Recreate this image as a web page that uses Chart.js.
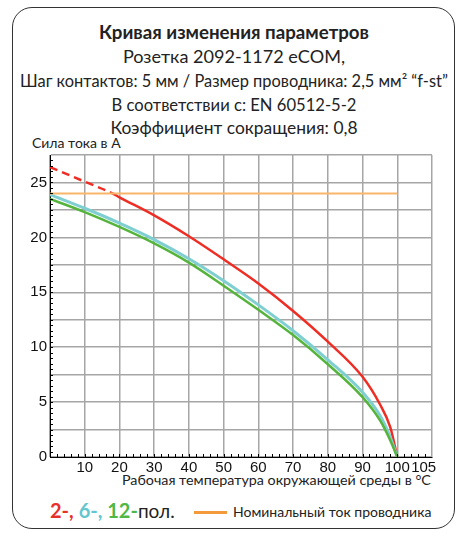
<!DOCTYPE html>
<html>
<head>
<meta charset="utf-8">
<script src="https://cdn.jsdelivr.net/npm/chart.js@4"></script>
<style>
  html, body { margin: 0; padding: 0; background: #fff; }
  body { width: 460px; height: 533px; position: relative; overflow: hidden; font-family: Lato, "Noto Sans", sans-serif; color: #222; }
  #frame { position: absolute; left: 12px; top: 7px; width: 443px; height: 522px; border: 1.5px solid #333; border-radius: 20px; box-sizing: border-box; }
  .line { position: absolute; left: 4px; width: 460px; text-align: center; white-space: nowrap; line-height: 20px; }
  #chart { position: absolute; left: 0; top: 0; }
  .txt { position: absolute; white-space: nowrap; line-height: 18px; }
</style>
</head>
<body>
<div id="frame"></div>
<div class="line" style="top:22px;font-weight:bold;font-size:18.7px;">Кривая изменения параметров</div>
<div class="line" style="top:46px;font-size:18.1px;">Розетка 2092-1172 eCOM,</div>
<div class="line" style="top:71px;font-size:16.4px;">Шаг контактов: 5 мм / Размер проводника: 2,5 мм² “f-st”</div>
<div class="line" style="top:95px;font-size:16.6px;">В соответствии с: EN 60512-5-2</div>
<div class="line" style="top:118px;font-size:17.4px;">Коэффициент сокращения: 0,8</div>
<div class="txt" style="left:32px;top:134px;font-size:14px;">Сила тока в А</div>
<div class="txt" style="left:122px;top:471px;font-size:14.3px;">Рабочая температура окружающей среды в °C</div>
<div class="txt" style="left:50px;top:501px;font-size:19px;">
  <b style="color:#e8302a;font-size:20px;">2-,</b> <b style="color:#62c6cf;font-size:20px;">6-,</b> <b style="color:#4fb845;font-size:20px;">12-</b>пол.
</div>
<div style="position:absolute;left:194px;top:511px;width:33px;height:2.5px;background:#f39a3a;"></div>
<div class="txt" style="left:233px;top:503px;font-size:14px;">Номинальный ток проводника</div>
<canvas id="chart" width="460" height="533"></canvas>
<script>
// temperatures in °C and current in A
const redTemp = [0, 10, 18, 20, 30, 40, 50, 60, 70, 80, 90, 95, 98, 100];
const redCurrent = [26.4, 25.07, 24.0, 23.65, 22.0, 20.1, 18.0, 15.8, 13.3, 10.5, 7.3, 4.8, 2.7, 0];

const poleTemp = [0, 10, 20, 30, 40, 50, 60, 70, 80, 90, 95, 98, 100];
const cyanCurrent = [23.9, 22.65, 21.3, 19.8, 18.05, 16.05, 13.85, 11.5, 8.85, 5.9, 3.8, 1.8, 0];
const greenCurrent = [23.5, 22.3, 20.95, 19.45, 17.7, 15.6, 13.4, 11.1, 8.45, 5.45, 3.35, 1.5, 0];

const ratedTemp = [0, 100];
const ratedCurrent = [24, 24];

const dashedUntil = 18;

const xTicks = [10, 20, 30, 40, 50, 60, 70, 80, 90, 100, 110];
const xTickLabels = ['10', '20', '30', '40', '50', '60', '70', '80', '90', '100', '105    '];

const toPoints = (xs, ys) => xs.map((x, i) => ({ x: x, y: ys[i] }));

// small dotted ticks along the axes
const minorTicks = {
    id: 'minorTicks',
    afterDatasetsDraw(chart) {
        const { ctx, scales: { x, y } } = chart;
        ctx.save();
        ctx.strokeStyle = '#000';
        ctx.lineWidth = 1;
        ctx.beginPath();
        for (let t = 2; t < 110; t += 2) {
            const px = Math.round(x.getPixelForValue(t)) + 0.5;
            ctx.moveTo(px, y.bottom);
            ctx.lineTo(px, y.bottom - 3);
        }
        for (let v = 0.5; v < 27.5; v += 0.5) {
            const py = Math.round(y.getPixelForValue(v)) + 0.5;
            ctx.moveTo(x.left, py);
            ctx.lineTo(x.left + 3, py);
        }
        ctx.stroke();
        ctx.restore();
    }
};

new Chart(document.getElementById('chart').getContext('2d'), {
    type: 'line',
    data: {
        datasets: [
            {
                data: toPoints(ratedTemp, ratedCurrent),
                borderColor: '#f7b66a',
                borderWidth: 2,
                pointRadius: 0
            },
            {
                data: toPoints(poleTemp, greenCurrent),
                borderColor: '#56b43c',
                borderWidth: 2.5,
                pointRadius: 0,
                cubicInterpolationMode: 'monotone'
            },
            {
                data: toPoints(poleTemp, cyanCurrent),
                borderColor: '#7fcfd2',
                borderWidth: 3,
                pointRadius: 0,
                cubicInterpolationMode: 'monotone'
            },
            {
                data: toPoints(redTemp, redCurrent),
                borderColor: '#ee2e24',
                borderWidth: 2.5,
                pointRadius: 0,
                cubicInterpolationMode: 'monotone',
                segment: {
                    borderDash: c => c.p1.parsed.x <= dashedUntil ? [8, 5] : undefined
                }
            }
        ]
    },
    options: {
        responsive: false,
        animation: false,
        devicePixelRatio: 1,
        layout: { padding: { left: 8, top: 155, right: 28, bottom: 51 } },
        plugins: { legend: { display: false }, tooltip: { enabled: false } },
        scales: {
            x: {
                type: 'linear',
                min: 0,
                max: 110,
                afterBuildTicks: s => { s.ticks = [0].concat(xTicks).map(v => ({ value: v })); },
                afterFit: s => { s.height = 25; },
                ticks: {
                    autoSkip: false,
                    maxRotation: 0,
                    padding: 2,
                    color: '#111',
                    font: { family: 'Liberation Sans', size: 15 },
                    callback: v => v === 0 ? '' : xTickLabels[xTicks.indexOf(v)]
                },
                grid: { color: '#a6a6a6', lineWidth: 1.5, drawTicks: false },
                border: { display: true, color: '#000', width: 1 }
            },
            y: {
                min: 0,
                max: 27.5,
                afterFit: s => { s.width = 42; },
                ticks: {
                    stepSize: 2.5,
                    padding: 3,
                    color: '#111',
                    font: { family: 'Liberation Sans', size: 15 },
                    callback: v => v % 5 === 0 ? v : ''
                },
                grid: { color: '#a6a6a6', lineWidth: 1.5, drawTicks: false },
                border: { display: true, color: '#000', width: 1 }
            }
        }
    },
    plugins: [minorTicks]
});
</script>
</body>
</html>
